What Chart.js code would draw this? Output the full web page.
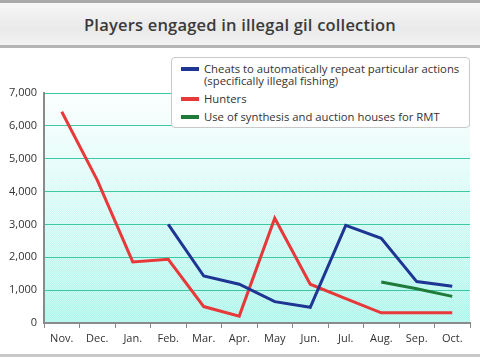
<!DOCTYPE html>
<html>
<head>
<meta charset="utf-8">
<script src="https://cdn.jsdelivr.net/npm/chart.js@4/dist/chart.umd.min.js"></script>
<style>
  html, body { margin: 0; padding: 0; background: #fff; }
  #wrap { position: relative; width: 480px; height: 360px; overflow: hidden; font-family: 'Open Sans', sans-serif; }
  #banner {
    position: absolute; left: 0; top: 0; width: 480px; height: 43px;
    border-top: 3px solid #a9a9a9;
    background: linear-gradient(#f7f7f7, #e9e9e9 60%, #f4f4f4);
    text-align: center; line-height: 43px;
    font-size: 16.5px; font-weight: 600; color: #3a3a3a; letter-spacing: 0.2px;
  }
  #bannerLine { position: absolute; left: 0; top: 45px; width: 480px; height: 3px; background: #b5b5b5; }
  #footLine { position: absolute; left: 0; top: 354px; width: 480px; height: 3px; background: #c8c8c8; }
  #chartBox { position: absolute; left: 0; top: 48px; width: 480px; height: 306px; }
  #legend {
    position: absolute; left: 171px; top: 57px; width: 299px; height: 71px;
    box-sizing: border-box; border: 1px solid #c9c9c9; border-radius: 4px; background: #fff;
    font-size: 11.3px; color: #333; padding: 5px 0 0 9px; line-height: 12px;
  }
  .item { display: flex; align-items: flex-start; margin-bottom: 6px; }
  .sw { width: 18px; height: 4px; margin: 4px 5px 0 0; flex: none; }
</style>
</head>
<body>
<div id="wrap">
  <div id="banner">Players engaged in illegal gil collection</div>
  <div id="bannerLine"></div>
  <div id="chartBox"><canvas id="lineChart"></canvas></div>
  <div id="legend"></div>
  <div id="footLine"></div>
</div>
<script>
const months = ['Nov.', 'Dec.', 'Jan.', 'Feb.', 'Mar.', 'Apr.', 'May', 'Jun.', 'Jul.', 'Aug.', 'Sep.', 'Oct.'];
const seriesNames = [
  ['Cheats to automatically repeat particular actions', '(specifically illegal fishing)'],
  'Hunters',
  'Use of synthesis and auction houses for RMT'
];
const cheats = [null, null, null, 3000, 1430, 1180, 650, 480, 2970, 2580, 1260, 1120];
const hunters = [6430, 4350, 1860, 1940, 500, 210, 3190, 1180, 740, 310, 310, 310];
const rmt = [null, null, null, null, null, null, null, null, null, 1250, 1040, 810];
const seriesColors = ['#1f3593', '#e8393a', '#1e7b3a'];

document.addEventListener('DOMContentLoaded', function () {
    const ctx = document.getElementById('lineChart').getContext('2d');

    // light checker dots laid over the cyan gradient
    const tile = document.createElement('canvas');
    tile.width = 2; tile.height = 2;
    const tctx = tile.getContext('2d');
    tctx.fillStyle = 'rgba(255,255,255,0.4)';
    tctx.fillRect(0, 0, 1, 1);
    tctx.fillRect(1, 1, 1, 1);

    const plotBackground = {
        id: 'plotBackground',
        beforeDraw(chart) {
            const { ctx, chartArea: a } = chart;
            ctx.save();
            const g = ctx.createLinearGradient(0, a.top, 0, a.bottom);
            g.addColorStop(0, 'rgba(170,246,236,0.05)');
            g.addColorStop(1, 'rgba(165,245,233,1)');
            ctx.fillStyle = g;
            ctx.fillRect(a.left, a.top, a.right - a.left, a.bottom - a.top);
            ctx.fillStyle = ctx.createPattern(tile, 'repeat');
            ctx.fillRect(a.left, a.top, a.right - a.left, a.bottom - a.top);
            ctx.restore();
        }
    };

    const datasets = [cheats, hunters, rmt].map((d, i) => ({
        label: Array.isArray(seriesNames[i]) ? seriesNames[i].join(' ') : seriesNames[i],
        data: d,
        borderColor: seriesColors[i],
        backgroundColor: seriesColors[i],
        borderWidth: 3,
        pointRadius: 0,
        tension: 0,
        spanGaps: false
    }));

    new Chart(ctx, {
        type: 'line',
        data: { labels: months, datasets: datasets },
        options: {
            responsive: true,
            maintainAspectRatio: false,
            animation: false,
            layout: { padding: { top: 45, right: 10, left: 0, bottom: 0 } },
            plugins: {
                legend: { display: false },
                tooltip: { enabled: false }
            },
            scales: {
                x: {
                    offset: true,
                    grid: { offset: true, drawOnChartArea: false, drawTicks: true, tickLength: 5, color: '#8a8a8a', lineWidth: 1 },
                    border: { color: '#8a8a8a', width: 2 },
                    ticks: { color: '#333', font: { family: 'Open Sans', size: 11 }, padding: 4, maxRotation: 0 },
                    afterFit(scale) { scale.height = 31; }
                },
                y: {
                    min: 0, max: 7000,
                    grid: { color: '#3fc8a4', lineWidth: 1, drawTicks: false },
                    border: { color: '#8a8a8a', width: 2 },
                    ticks: {
                        stepSize: 1000, color: '#333', padding: 7,
                        font: { family: 'Open Sans', size: 11 },
                        callback: v => v.toLocaleString('en-US')
                    },
                    afterFit(scale) { scale.width = 44; }
                }
            }
        },
        plugins: [plotBackground]
    });

    // legend box built from the series names and colours
    const legend = document.getElementById('legend');
    seriesNames.forEach((name, i) => {
        const row = document.createElement('div');
        row.className = 'item';
        const sw = document.createElement('span');
        sw.className = 'sw';
        sw.style.background = seriesColors[i];
        const txt = document.createElement('span');
        txt.innerHTML = Array.isArray(name) ? name.join('<br>') : name;
        row.appendChild(sw);
        row.appendChild(txt);
        legend.appendChild(row);
    });
});
</script>
</body>
</html>
